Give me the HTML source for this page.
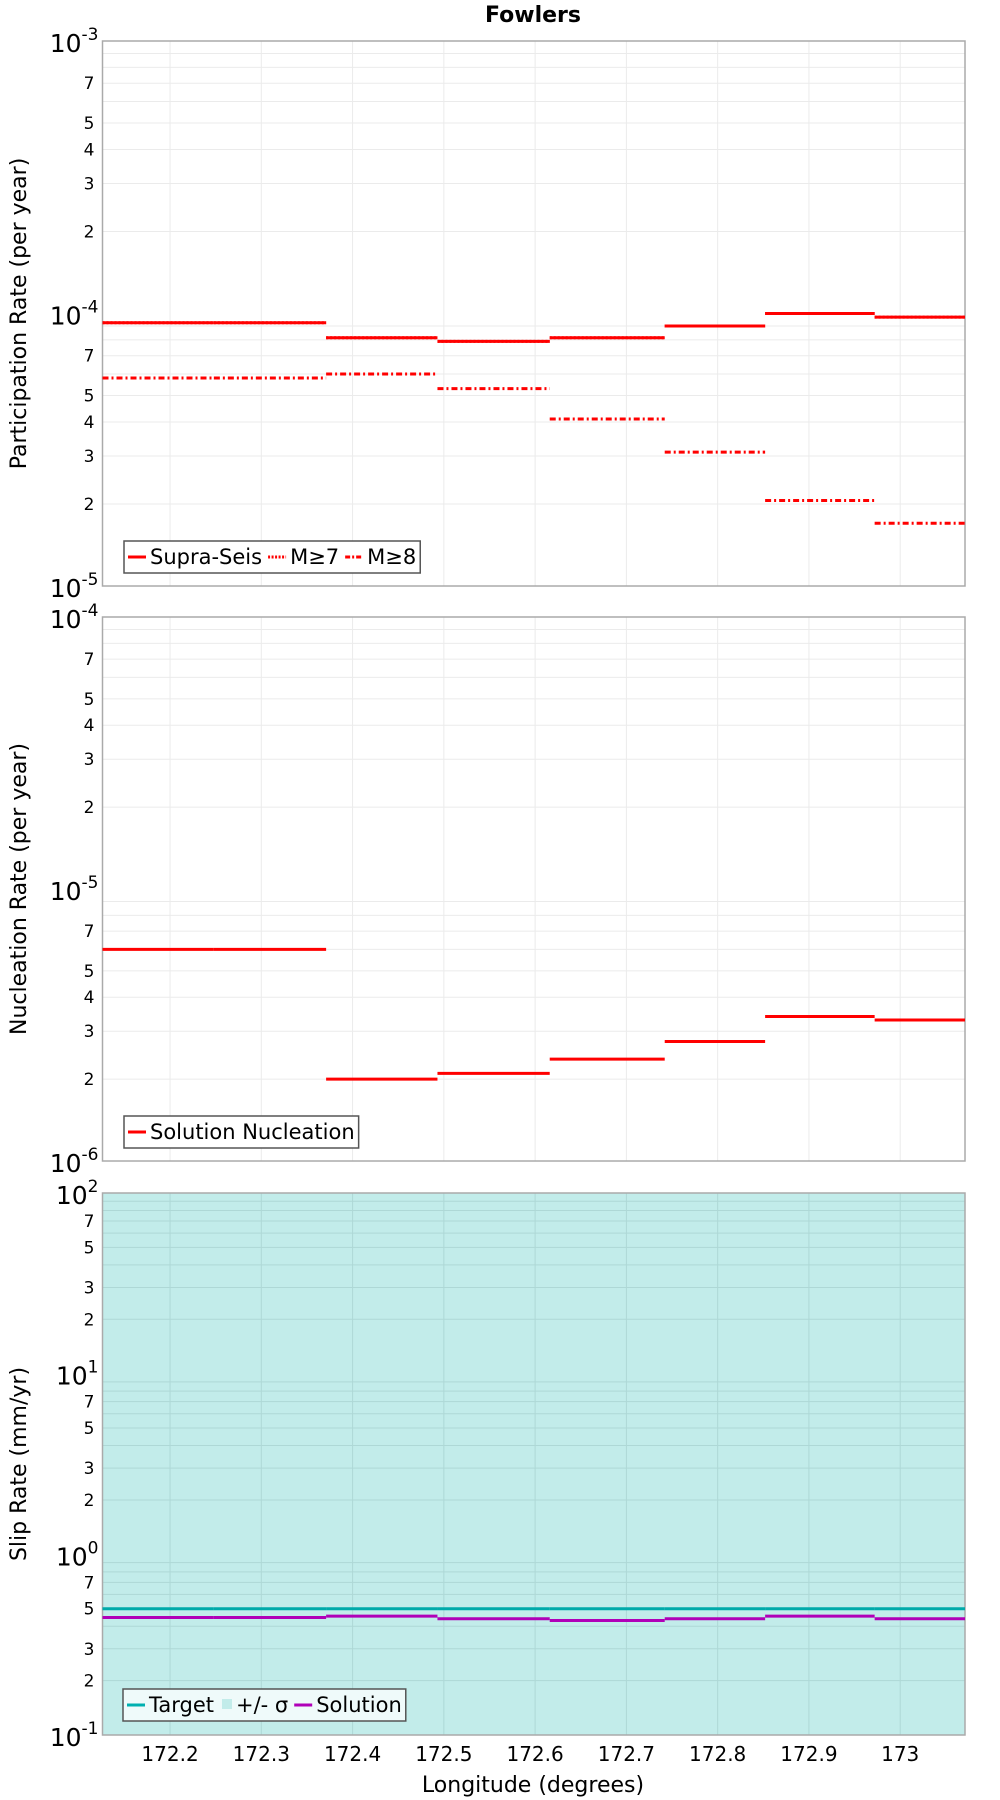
<!DOCTYPE html>
<html><head><meta charset="utf-8"><style>
body{margin:0;background:#fff;}
svg{display:block;font-family:"DejaVu Sans","Liberation Sans",sans-serif;}
</style></head><body>
<svg id="c" width="1000" height="1800" xmlns="http://www.w3.org/2000/svg">
<text x="533" y="22" text-anchor="middle" font-weight="bold" font-size="22">Fowlers</text>
</svg>
<script>
const edges=[172.126,172.248,172.371,172.493,172.616,172.742,172.852,172.972,173.071];
const supraSeis=[9.25e-5,9.25e-5,8.15e-5,7.9e-5,8.15e-5,9.0e-5,1.0e-4,9.7e-5];
const m7=[9.25e-5,9.25e-5,8.15e-5,7.9e-5,8.15e-5,9.0e-5,1.0e-4,9.7e-5];
const m8=[5.8e-5,5.8e-5,6.0e-5,5.3e-5,4.1e-5,3.1e-5,2.06e-5,1.7e-5];
const nucleation=[6.0e-6,6.0e-6,2.0e-6,2.1e-6,2.37e-6,2.75e-6,3.4e-6,3.3e-6];
const target=[0.5,0.5,0.5,0.5,0.5,0.5,0.5,0.5];
const solution=[0.447,0.447,0.455,0.44,0.43,0.44,0.455,0.44];
const xTicks=[172.2,172.3,172.4,172.5,172.6,172.7,172.8,172.9,173];
const xTickLabels=["172.2","172.3","172.4","172.5","172.6","172.7","172.8","172.9","173"];

const NS="http://www.w3.org/2000/svg";
const svg=document.getElementById('c');
const L=102.5,R=965,X0=172.126,X1=173.071;
function xs(v){return L+(v-X0)/(X1-X0)*(R-L);}
function mk(tag,attrs,parent){const e=document.createElementNS(NS,tag);for(const k in attrs)e.setAttribute(k,attrs[k]);(parent||svg).appendChild(e);return e;}

function panel(name,top,bot,dmin,dmax,bg,title,labelMs){
  const g=mk('g',{});
  
  
  const ys=v=>bot-(Math.log10(v)-dmin)/(dmax-dmin)*(bot-top);
  const r=mk('rect',{x:L,y:top,width:R-L,height:bot-top,fill:bg},g);
  
  
  const grid=bg=='#fff'?'#ebebeb':'#aed8d6';
  xTicks.forEach(t=>{const l=mk('line',{x1:xs(t),x2:xs(t),y1:top,y2:bot,stroke:grid,'stroke-width':1},g);
    });
  for(let d=dmin;d<dmax;d++){for(let m=1;m<10;m++){
    const v=m*Math.pow(10,d);const y=ys(v);
    if(m>1){const l=mk('line',{x1:L,x2:R,y1:y,y2:y,stroke:grid,'stroke-width':1},g);
      }
    if(labelMs.includes(m)){const t=mk('text',{x:L-8,y:y+6,'text-anchor':'end','font-size':17},g);t.textContent=m;
      }
  }}
  for(let d=dmin;d<=dmax;d++){const y=ys(Math.pow(10,d));
    const t=mk('text',{x:L-4,y:y+11,'text-anchor':'end','font-size':25},g);
    t.innerHTML='10<tspan dy="-12" font-size="17">'+d+'</tspan>';
    }
  const b=mk('rect',{x:L,y:top,width:R-L,height:bot-top,fill:'none',stroke:'#aaa','stroke-width':1.5},g);
  
  const at=mk('text',{transform:`translate(26,${(top+bot)/2}) rotate(-90)`,'text-anchor':'middle','font-size':22},g);
  at.textContent=title;
  return {g,ys};
}
function steps(p,vals,color,dash,name,w){
  vals.forEach((v,i)=>{const y=p.ys(v);
    const l=mk('line',{x1:xs(edges[i]),x2:xs(edges[i+1]),y1:y,y2:y,stroke:color,'stroke-width':w||3,'stroke-dasharray':dash||'none'},p.g);
    });
}
function legend(p,x,y,items,bg){
  const lg=mk('g',{},p.g);
  
  const box=mk('rect',{x,y,width:10,height:32,fill:bg,stroke:'#555','stroke-width':1.5},lg);
  let cx=x+4;
  items.forEach(it=>{
    const e=mk('g',{},lg);
    
    if(it.sq){mk('rect',{x:cx+2,y:y+10,width:10,height:10,fill:it.c},e);cx+=16;}
    else{mk('line',{x1:cx,x2:cx+18,y1:y+16,y2:y+16,stroke:it.c,'stroke-width':3,'stroke-dasharray':it.d||'none'},e);cx+=22;}
    const t=mk('text',{x:cx,y:y+23,'font-size':21},e);t.textContent=it.t;cx+=t.getComputedTextLength()+6;
  });
  box.setAttribute('width',cx-x-2);
}
const p1=panel('participation-panel',41,586,-5,-3,'#fff','Participation Rate (per year)',[2,3,4,5,7]);
steps(p1,m8,'#f00','6,3,2,3','m8-step');
steps(p1,m7,'#f00','2,2','m7-step');
steps(p1,supraSeis,'#f00',null,'supra-seis-step');
legend(p1,124,541,[{c:'#f00',t:'Supra-Seis'},{c:'#f00',d:'2,1.5',t:'M≥7'},{c:'#f00',d:'5,2,2,2',t:'M≥8'}],'#fff');
const p2=panel('nucleation-panel',617,1161,-6,-4,'#fff','Nucleation Rate (per year)',[2,3,4,5,7]);
steps(p2,nucleation,'#f00',null,'nucleation-step');
legend(p2,124,1116,[{c:'#f00',t:'Solution Nucleation'}],'#fff');
const p3=panel('slip-rate-panel',1193,1735,-1,2,'#c2ecea','Slip Rate (mm/yr)',[2,3,5,7]);
steps(p3,target,'#00aaaa',null,'target-step');
steps(p3,solution,'#b000b8',null,'solution-step');
legend(p3,123,1689,[{c:'#00b0b0',t:'Target'},{c:'#c2ecea',sq:1,t:'+/- σ'},{c:'#b000b8',t:'Solution'}],'#effafa');
xTicks.forEach((t,i)=>{const e=mk('text',{x:xs(t),y:1761,'text-anchor':'middle','font-size':20});e.textContent=xTickLabels[i];
  });
const xt=mk('text',{x:533,y:1792,'text-anchor':'middle','font-size':22});xt.textContent='Longitude (degrees)';

</script>
</body></html>
